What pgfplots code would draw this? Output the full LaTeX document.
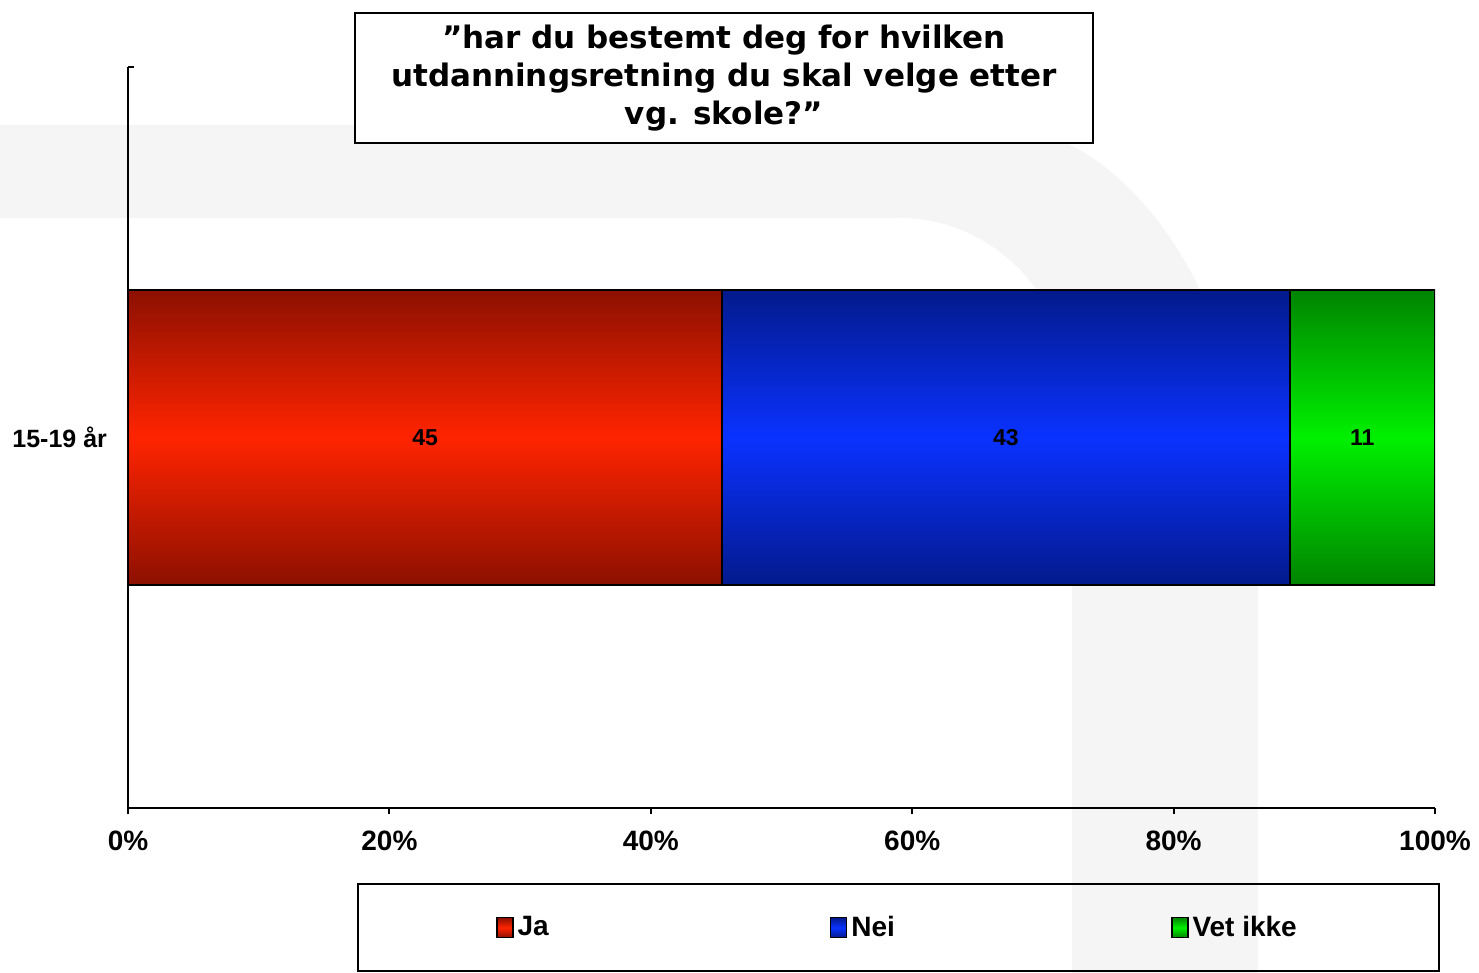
\documentclass[border=0pt]{standalone}
\usepackage{pgfplots}
\pgfplotsset{compat=1.18}
\usepackage{fontspec}
\setmainfont{Liberation Sans}
\newfontfamily\titlefont{DejaVu Sans}

\definecolor{jaDark}{HTML}{8C1000}
\definecolor{jaMid}{HTML}{FF2400}
\definecolor{neiDark}{HTML}{031A8C}
\definecolor{neiMid}{HTML}{0A32FF}
\definecolor{vetDark}{HTML}{008400}
\definecolor{vetMid}{HTML}{00F000}
\definecolor{wm}{HTML}{F5F5F5}

\begin{document}
\begin{tikzpicture}
% page frame and faint background logo, in pixel units of the reference
\begin{scope}[x=0.5pt,y=-0.5pt]
\path[use as bounding box] (0,0) rectangle (1479,971);
\fill[wm] (0,125) -- (990,125)
  .. controls (1138,125) and (1258,320) .. (1258,560)
  -- (1258,975) -- (1072,975) -- (1072,400)
  .. controls (1072,300) and (995,218) .. (900,218)
  -- (0,218) -- cycle;
\end{scope}

\begin{axis}[
  at={(64pt,-404pt)}, anchor=south west,
  scale only axis, width=653.5pt, height=370.5pt,
  xbar stacked, bar width=147.5pt,
  xmin=0, xmax=100, ymin=0, ymax=1,
  x filter/.expression={x*100/99},
  axis x line*=bottom, axis y line*=left,
  axis line style={line width=1pt, -},
  tick align=outside, major tick length=3pt,
  xtick={0,20,40,60,80,100},
  xticklabels={0\%,20\%,40\%,60\%,80\%,100\%},
  xtick style={line width=1pt, black},
  ytick={0.5}, yticklabels={15-19 år},
  ytick style={draw=none},
  extra y ticks={1}, extra y tick labels={},
  extra y tick style={tick align=inside, ytick style={draw=black, line width=1pt}},
  /pgf/number format/assume math mode=true,
  xticklabel style={font=\bfseries\fontsize{14}{16}\selectfont, yshift=-5pt},
  yticklabel style={font=\bfseries\fontsize{12.5}{15}\selectfont, xshift=-4pt},
  point meta=explicit,
  nodes near coords,
  nodes near coords style={font=\bfseries\fontsize{11.5}{13}\selectfont, text=black, anchor=center},
  title={”har du bestemt deg for hvilken\\utdanningsretning du skal velge etter\\vg. skole?”},
  title style={font=\titlefont\bfseries\fontsize{15.5}{19}\selectfont, align=center,
    draw=black, line width=1pt, fill=white, minimum width=369pt, minimum height=65pt,
    inner sep=0pt, at={(0.456,0.9688)}, anchor=center},
  legend columns=3,
  legend style={at={(0.1752,-0.1012)}, anchor=north west, draw=black, fill=none,
    line width=1pt, inner xsep=69pt, inner ysep=14pt,
    font=\bfseries\fontsize{14}{16}\selectfont,
    /tikz/column 2/.style={column sep=138.5pt},
    /tikz/column 4/.style={column sep=136pt}},
  legend image code/.code={\draw[#1, draw=black, line width=0.8pt] (0pt,-5pt) rectangle (8pt,5pt);},
]
\addplot[draw=black, line width=1pt, top color=jaDark, bottom color=jaDark, middle color=jaMid]
  table[x=v, y=y, meta=v] {
v y
45 0.5
};
\addplot[draw=black, line width=1pt, top color=neiDark, bottom color=neiDark, middle color=neiMid]
  table[x=v, y=y, meta=v] {
v y
43 0.5
};
\addplot[draw=black, line width=1pt, top color=vetDark, bottom color=vetDark, middle color=vetMid]
  table[x=v, y=y, meta=v] {
v y
11 0.5
};
\legend{Ja,Nei,Vet ikke}
\end{axis}
\end{tikzpicture}
\end{document}
